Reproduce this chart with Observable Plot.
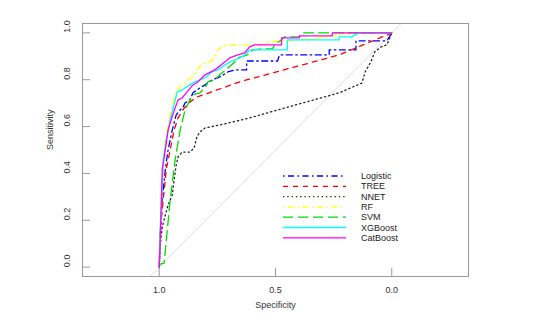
<!DOCTYPE html>
<html>
<head>
<meta charset="utf-8">
<script src="https://cdn.jsdelivr.net/npm/d3@7"></script>
<script src="https://cdn.jsdelivr.net/npm/@observablehq/plot@0.6"></script>
<style>
  body { margin: 0; background: white; }
  #wrap { position: relative; width: 542px; height: 323px; }
  #legend { position: absolute; left: 0; top: 0; }
</style>
</head>
<body>
<div id="wrap"></div>
<script>
// ---- data (specificity, sensitivity) ----
const seriesNames = ["Logistic", "TREE", "NNET", "RF", "SVM", "XGBoost", "CatBoost"];
const seriesColors = ["#0000ff", "#ff0000", "#222222", "#ffff00", "#00dd00", "#00ffff", "#ff00ff"];
const seriesDash = ["1.5,3.5,6,3.5", "5,5", "1.3,3", "1.5,3.5,6,3.5", "10,5", null, null];

const logisticSpec = [1.000,0.996,0.987,0.974,0.962,0.944,0.927,0.910,0.897,0.889,0.868,0.855,0.825,0.803,0.774,0.739,0.705,0.675,0.624,0.624,0.491,0.483,0.269,0.269,0.154,0.154,0.021,0.000];
const logisticSens = [0.000,0.115,0.286,0.415,0.500,0.585,0.650,0.671,0.684,0.701,0.714,0.744,0.765,0.778,0.799,0.812,0.833,0.842,0.842,0.880,0.880,0.906,0.906,0.927,0.927,0.966,0.966,1.000];

const treeSpec = [1.000,0.996,0.983,0.970,0.953,0.936,0.919,0.893,0.868,0.838,0.654,0.226,0.000];
const treeSens = [0.000,0.158,0.286,0.415,0.500,0.585,0.637,0.679,0.705,0.726,0.791,0.906,1.000];

const nnetSpec = [1.000,0.996,0.987,0.974,0.962,0.944,0.936,0.927,0.919,0.902,0.868,0.850,0.838,0.825,0.803,0.739,0.611,0.397,0.226,0.128,0.115,0.090,0.073,0.047,0.021,0.000];
const nnetSens = [0.000,0.094,0.171,0.222,0.265,0.308,0.372,0.436,0.470,0.491,0.491,0.509,0.556,0.577,0.594,0.607,0.637,0.697,0.744,0.786,0.833,0.876,0.919,0.940,0.949,1.000];

const rfSpec = [1.000,0.996,0.987,0.979,0.966,0.953,0.940,0.927,0.910,0.897,0.876,0.855,0.838,0.812,0.782,0.761,0.748,0.731,0.705,0.556,0.526,0.397,0.269,0.205,0.000];
const rfSens = [0.000,0.158,0.427,0.500,0.585,0.650,0.705,0.748,0.774,0.778,0.799,0.812,0.842,0.868,0.876,0.897,0.927,0.940,0.949,0.949,0.962,0.970,0.983,0.996,1.000];

const svmSpec = [1.000,0.996,0.979,0.953,0.932,0.910,0.889,0.868,0.855,0.825,0.803,0.791,0.761,0.739,0.705,0.675,0.662,0.620,0.598,0.556,0.513,0.504,0.474,0.462,0.397,0.385,0.000];
const svmSens = [0.000,0.013,0.017,0.286,0.457,0.585,0.671,0.714,0.735,0.744,0.765,0.791,0.799,0.821,0.850,0.876,0.893,0.906,0.927,0.932,0.932,0.949,0.970,0.983,0.983,1.000,1.000];

const xgbSpec = [1.000,0.996,0.987,0.983,0.970,0.953,0.936,0.923,0.902,0.889,0.868,0.846,0.825,0.803,0.774,0.748,0.718,0.697,0.654,0.632,0.611,0.449,0.449,0.226,0.226,0.175,0.141,0.000];
const xgbSens = [0.000,0.158,0.329,0.457,0.543,0.628,0.692,0.748,0.756,0.765,0.778,0.791,0.799,0.808,0.833,0.842,0.863,0.876,0.893,0.906,0.927,0.927,0.970,0.970,0.983,0.983,1.000,1.000];

const catSpec = [1.000,0.996,0.987,0.974,0.962,0.949,0.936,0.919,0.902,0.880,0.859,0.833,0.803,0.761,0.718,0.697,0.662,0.632,0.611,0.590,0.474,0.474,0.397,0.397,0.256,0.256,0.000];
const catSens = [0.000,0.115,0.415,0.500,0.585,0.628,0.667,0.714,0.722,0.748,0.774,0.791,0.821,0.842,0.876,0.893,0.906,0.915,0.940,0.949,0.949,0.979,0.979,0.987,0.987,1.000,1.000];

const xTicks = [1.0, 0.5, 0.0];
const yTicks = [0.0, 0.2, 0.4, 0.6, 0.8, 1.0];
const xLabel = "Specificity";
const yLabel = "Sensitivity";
const xDomain = [1.33, -0.33];
const yDomain = [-0.04, 1.04];

// ---- build table ----
const specs = [logisticSpec, treeSpec, nnetSpec, rfSpec, svmSpec, xgbSpec, catSpec];
const senss = [logisticSens, treeSens, nnetSens, rfSens, svmSens, xgbSens, catSens];
const curves = seriesNames.map((name, i) =>
  specs[i].map((s, j) => ({name, spec: s, sens: senss[i][j]})));
const diag = yDomain.map(s => ({spec: 1 - s, sens: s}));
const fmt = d3.format(".1f");
const FONT = "'Liberation Sans', Arial, Helvetica, sans-serif";

const marks = [
  Plot.line(diag, {x: "spec", y: "sens", stroke: "#dddddd", strokeWidth: 1}),
  ...curves.map((c, i) => Plot.line(c, {
    x: "spec", y: "sens", stroke: seriesColors[i], strokeWidth: 1.3,
    strokeDasharray: seriesDash[i] || undefined, curve: "linear"
  })),
  Plot.frame({stroke: "#999", strokeWidth: 1}),
  Plot.ruleX(xTicks, {x: d => d, insetTop: 245, stroke: "#999"}),
  Plot.ruleY(yTicks, {y: d => d, insetRight: 378, stroke: "#999"}),
  Plot.text(xTicks, {x: d => d, text: d => fmt(d), frameAnchor: "bottom", dy: 16, fill: "#333"}),
  Plot.text(yTicks, {y: d => d, text: d => fmt(d), frameAnchor: "left", dx: -15, rotate: -90, fill: "#333"}),
  Plot.text([xLabel], {text: d => d, frameAnchor: "bottom", dy: 31, fill: "#333"}),
  Plot.text([yLabel], {text: d => d, frameAnchor: "left", dx: -32, rotate: -90, fill: "#333"})
];

const chart = Plot.plot({
  width: 542, height: 323,
  marginLeft: 82, marginRight: 74, marginTop: 23, marginBottom: 47,
  x: {domain: xDomain, axis: null},
  y: {domain: yDomain, axis: null},
  style: {fontFamily: FONT, fontSize: "9px", background: "white", overflow: "visible"},
  marks
});
const wrap = document.getElementById("wrap");
wrap.appendChild(chart);

// ---- legend overlay ----
const leg = d3.select(wrap).append("svg").attr("id", "legend")
  .attr("width", 542).attr("height", 323)
  .style("font-family", FONT).style("font-size", "9px");
const rows = leg.selectAll("g").data(seriesNames).join("g")
  .attr("transform", (d, i) => `translate(283, ${176 + i * 10.3})`);
rows.append("line").attr("x1", 0).attr("x2", 63).attr("y1", 0).attr("y2", 0)
  .attr("stroke", (d, i) => seriesColors[i]).attr("stroke-width", 1.3)
  .attr("stroke-dasharray", (d, i) => seriesDash[i]);
rows.append("text").attr("x", 78).attr("y", 0).attr("dy", "0.35em")
  .attr("fill", "#222").text(d => d);
</script>
</body>
</html>
